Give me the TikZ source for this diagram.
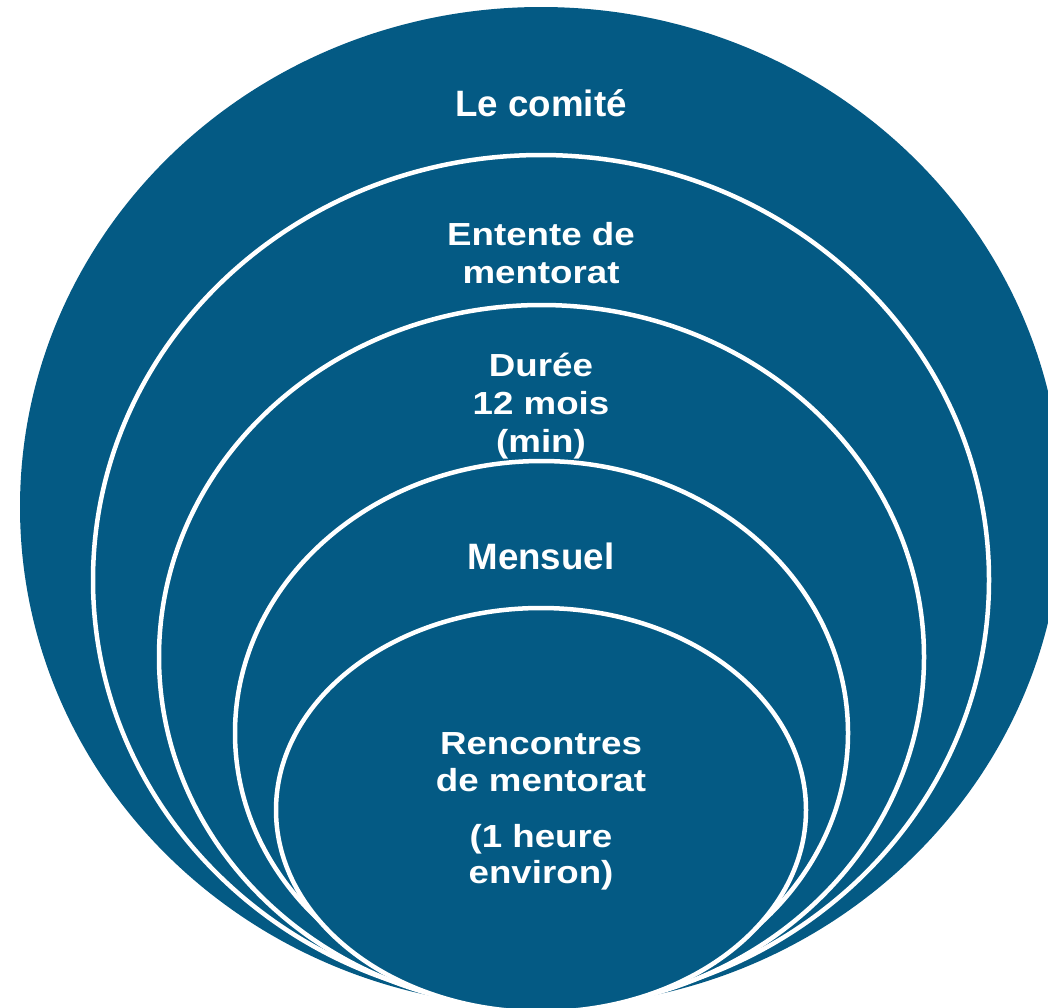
\documentclass[tikz,border=0pt]{standalone}
\usepackage{fontspec}
\setmainfont{Liberation Sans}
\usepackage{graphicx}
\definecolor{ringblue}{HTML}{045A84}
\begin{document}
\begin{tikzpicture}[x=1pt,y=-1pt,
  ring/.style={fill=ringblue,draw=white,line width=4.5pt},
  lbl/.style={text=white,font=\fontsize{36.7}{44}\selectfont\bfseries,inner sep=0pt,anchor=base}]
\useasboundingbox (0,0) rectangle (1048,1007);
\clip (0,0) rectangle (1048,1007);
% outer
\fill[ringblue] (541,507) ellipse [x radius=521, y radius=500];
\node[lbl] (comite) at (541,116) {Le comité};
% second
\draw[ring] (541,580) ellipse [x radius=448, y radius=425];
\node[lbl] (entente) at (541,245) {\scalebox{1}[0.87]{\begin{tabular}[t]{@{}c@{}}Entente de\\mentorat\end{tabular}}};
% third
\draw[ring] (541.5,657) ellipse [x radius=382.5, y radius=352];
\node[lbl] (duree) at (541,376) {\scalebox{1}[0.87]{\begin{tabular}[t]{@{}c@{}}Durée\\12 mois\\(min)\end{tabular}}};
% fourth
\draw[ring] (541.5,733) ellipse [x radius=306.5, y radius=272];
\node[lbl] (mensuel) at (541,569) {Mensuel};
% fifth
\draw[ring] (541,810) ellipse [x radius=265, y radius=202];
\node[lbl] (rencontres) at (541,754) {\scalebox{1}[0.87]{\begin{tabular}[t]{@{}c@{}}Rencontres\\[-1pt]de mentorat\\[19.9pt](1 heure\\[-1.8pt]environ)\end{tabular}}};
\end{tikzpicture}
\end{document}
